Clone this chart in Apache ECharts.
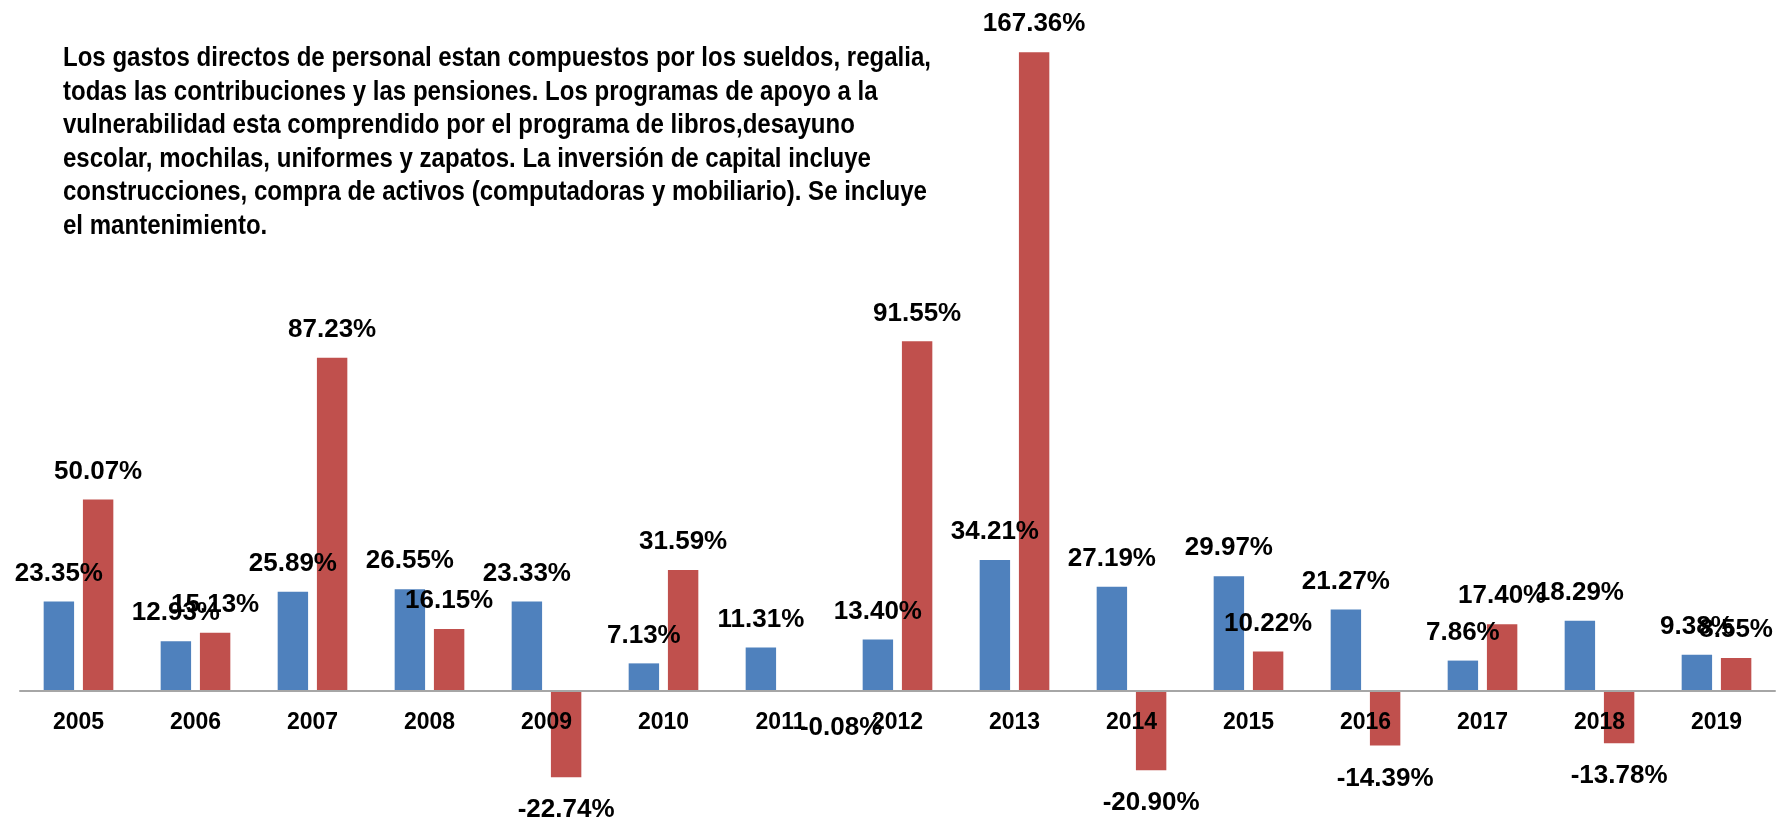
<!DOCTYPE html>
<html>
<head>
<meta charset="utf-8">
<script src="https://cdn.jsdelivr.net/npm/echarts@6/dist/echarts.min.js"></script>
<style>
  html, body {margin: 0; padding: 0; background: #fff;}
  #chart {width: 1784px; height: 825px;}
</style>
</head>
<body>
<div id="chart"></div>
<script>
const YEARS = ["2005", "2006", "2007", "2008", "2009", "2010", "2011", "2012", "2013", "2014", "2015", "2016", "2017", "2018", "2019"];
const PERSONAL = [23.35, 12.93, 25.89, 26.55, 23.33, 7.13, 11.31, 13.40, 34.21, 27.19, 29.97, 21.27, 7.86, 18.29, 9.38];
const INVERSION = [50.07, 15.13, 87.23, 16.15, -22.74, 31.59, -0.08, 91.55, 167.36, -20.90, 10.22, -14.39, 17.40, -13.78, 8.55];
const NOTE_LINES = [
  "Los gastos directos de personal estan compuestos por los sueldos, regalia,",
  "todas las contribuciones y las pensiones. Los programas de apoyo a la",
  "vulnerabilidad esta comprendido por el programa de libros,desayuno",
  "escolar, mochilas, uniformes y zapatos. La inversión de capital incluye",
  "construcciones, compra de activos (computadoras y mobiliario). Se incluye",
  "el mantenimiento."
];

// the -0.08% label was dragged to the right in the original
const INVERSION_LABEL_SHIFT = {6: [41, 4]};

const FONT = "'Liberation Sans', Arial, sans-serif";
const BLUE = "#4f81bd";
const RED = "#c0504d";

// zero line sits at y = 4 + 180 / 210 * 801 inside the grid
const GRID_TOP = 4;
const GRID_BOTTOM = 20;
const Y_MIN = -30;
const Y_MAX = 180;
const plotHeight = 825 - GRID_TOP - GRID_BOTTOM;
const zeroFromBottom = -Y_MIN / (Y_MAX - Y_MIN) * plotHeight;

function toBarData(values, shifts) {
  return values.map((v, i) => {
    const label = v < 0 ? {position: "bottom", distance: 20} : {position: "top", distance: 15};
    if (shifts && shifts[i]) {label.offset = shifts[i];}
    return {value: v, label};
  });
}

const barLabel = {
  show: true,
  formatter: params => params.value.toFixed(2) + "%",
  fontFamily: FONT,
  fontSize: 26,
  fontWeight: "bold",
  color: "#000",
};

const chart = echarts.init(document.getElementById("chart"));
chart.setOption({
  animation: false,
  grid: {left: 20, right: 9, top: GRID_TOP, bottom: GRID_BOTTOM, outerBoundsMode: "none"},
  xAxis: {
    type: "category",
    data: YEARS,
    z: 5,
    position: "bottom",
    offset: -zeroFromBottom,
    axisTick: {show: false},
    axisLine: {onZero: false, lineStyle: {color: "#a6a6a6", width: 2}},
    axisLabel: {
      margin: 21,
      fontFamily: FONT,
      fontSize: 23,
      fontWeight: "bold",
      color: "#000",
    },
  },
  yAxis: {
    type: "value",
    min: Y_MIN,
    max: Y_MAX,
    show: false,
  },
  series: [
    {
      name: "Gastos directos de personal",
      type: "bar",
      data: toBarData(PERSONAL),
      barWidth: "26%",
      barGap: "29%",
      itemStyle: {color: BLUE},
      label: barLabel,
    },
    {
      name: "Inversión de capital",
      type: "bar",
      data: toBarData(INVERSION, INVERSION_LABEL_SHIFT),
      barWidth: "26%",
      itemStyle: {color: RED},
      label: barLabel,
    },
  ],
  graphic: [
    {
      type: "text",
      x: 63,
      y: 42,
      scaleX: 0.89,
      z: 10,
      style: {
        text: NOTE_LINES.join("\n"),
        fontFamily: FONT,
        fontSize: 27,
        fontWeight: "bold",
        lineHeight: 33.5,
        verticalAlign: "top",
        fill: "#000",
      },
    },
  ],
});
</script>
</body>
</html>
